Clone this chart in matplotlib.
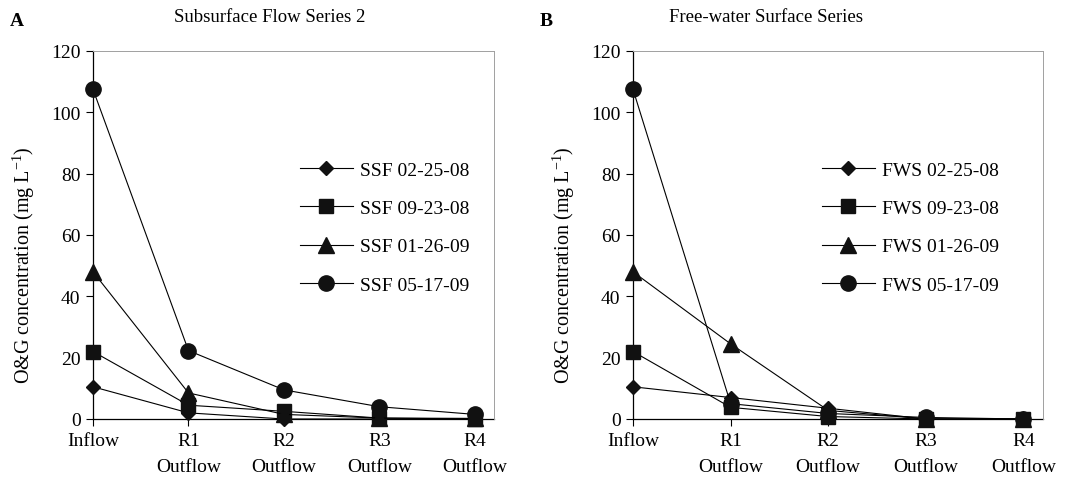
import matplotlib.pyplot as plt

plt.rcParams['font.family'] = ['Liberation Serif', 'DejaVu Serif']
plt.rcParams['mathtext.fontset'] = 'custom'
plt.rcParams['mathtext.rm'] = 'Liberation Serif'
plt.rcParams['mathtext.it'] = 'Liberation Serif:italic'

stations = ['Inflow', 'R1\nOutflow', 'R2\nOutflow', 'R3\nOutflow', 'R4\nOutflow']
dates = ['02-25-08', '09-23-08', '01-26-09', '05-17-09']

# subsurface flow series 2 (mg/L)
ssf_0225 = [10.5, 2.0, 0.0, 0.0, 0.0]
ssf_0923 = [22.0, 4.5, 2.5, 0.3, 0.0]
ssf_0126 = [48.0, 8.5, 1.5, 0.3, 0.2]
ssf_0517 = [107.5, 22.3, 9.5, 4.0, 1.5]

# free-water surface series (mg/L)
fws_0225 = [10.5, 7.0, 3.5, 0.0, 0.0]
fws_0923 = [22.0, 3.8, 0.8, 0.0, 0.0]
fws_0126 = [48.0, 24.5, 2.8, 0.0, 0.0]
fws_0517 = [107.5, 5.0, 1.8, 0.5, 0.0]

markers = [('D', 6.8), ('s', 10.5), ('^', 11), ('o', 11)]
fs = 14

fig = plt.figure(figsize=(10.67, 4.89), dpi=100)
ax1 = fig.add_axes([93 / 1067, 1 - 420 / 489, 401 / 1067, 368 / 489])
ax2 = fig.add_axes([633 / 1067, 1 - 420 / 489, 410 / 1067, 368 / 489])

panels = [
    (ax1, 'SSF', [ssf_0225, ssf_0923, ssf_0126, ssf_0517], 300),
    (ax2, 'FWS', [fws_0225, fws_0923, fws_0126, fws_0517], 822),
]

x = list(range(len(stations)))
for ax, tag, series, legx in panels:
    for vals, d, (m, ms) in zip(series, dates, markers):
        ax.plot(x, vals, color='black', lw=0.8, marker=m, ms=ms,
                markerfacecolor='#111111', markeredgecolor='#111111',
                label=f'{tag} {d}', clip_on=False, zorder=3)
    ax.set_xlim(0, 4.2)
    ax.set_ylim(0, 120)
    ax.set_yticks(range(0, 121, 20))
    ax.set_xticks(x)
    ax.set_xticklabels(stations, fontsize=fs, linespacing=1.7)
    ax.tick_params(axis='y', labelsize=fs, direction='out', length=5, width=0.8, pad=4)
    ax.tick_params(axis='x', direction='out', length=5, width=0.8, pad=4)
    for s in ['top', 'right']:
        ax.spines[s].set_color('#a0a0a0')
        ax.spines[s].set_linewidth(0.7)
    for s in ['left', 'bottom']:
        ax.spines[s].set_linewidth(0.9)
        ax.spines[s].set_zorder(2)
    ax.set_ylabel('O&G concentration (mg L$^{-1}$)', fontsize=14.5, labelpad=10)
    ax.yaxis.label.set_y(0.42)
    ax.legend(loc='upper left', bbox_to_anchor=(legx / 1067, 1 - 162 / 489),
              bbox_transform=fig.transFigure, frameon=False, fontsize=fs,
              borderpad=0, borderaxespad=0, handlelength=2.7,
              handletextpad=0.4, labelspacing=1.07)

fig.text(270 / 1067, 1 - 18 / 489, 'Subsurface Flow Series 2', ha='center', va='center', fontsize=13.5)
fig.text(766 / 1067, 1 - 18 / 489, 'Free-water Surface Series', ha='center', va='center', fontsize=13.5)
fig.text(10 / 1067, 1 - 22 / 489, 'A', ha='left', va='center', fontsize=14, fontweight='bold')
fig.text(540 / 1067, 1 - 22 / 489, 'B', ha='left', va='center', fontsize=14, fontweight='bold')

fig.savefig('out.png', dpi=100)
